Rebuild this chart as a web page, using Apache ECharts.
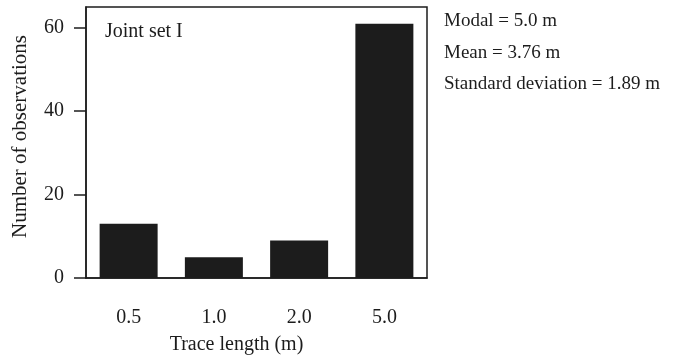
<!DOCTYPE html>
<html>
<head>
<meta charset="utf-8">
<script src="https://cdn.jsdelivr.net/npm/echarts@6/dist/echarts.min.js"></script>
<style>
  html, body { margin: 0; padding: 0; background: #fff; }
  #chart { width: 675px; height: 360px; }
</style>
</head>
<body>
<div id="chart"></div>
<script>
// trace length classes and counts
const categories = ['0.5', '1.0', '2.0', '5.0']
const counts = [13, 5, 9, 61]
const yTicks = [0, 20, 40, 60]
const statLines = ['Modal = 5.0 m', 'Mean = 3.76 m', 'Standard deviation = 1.89 m']

const ink = '#1c1c1c'
const font = '"Liberation Serif", "DejaVu Serif", serif'

const chart = echarts.init(document.getElementById('chart'))

chart.setOption({
  backgroundColor: '#fff',
  animation: false,
  textStyle: { fontFamily: font, color: ink },
  title: {
    text: 'Joint set I',
    left: 100,
    top: 17,
    textStyle: { fontFamily: font, fontSize: 20, fontWeight: 'normal', color: ink }
  },
  grid: {
    left: 86,
    right: 248,
    top: 7,
    bottom: 81,
    show: true,
    borderColor: ink,
    borderWidth: 1.5
  },
  xAxis: {
    type: 'category',
    data: categories,
    boundaryGap: true,
    axisLine: { lineStyle: { color: ink, width: 1.5 } },
    axisTick: { alignWithLabel: true, length: 11, lineStyle: { color: ink, width: 1.5 } },
    axisLabel: { margin: 30, fontSize: 20, color: ink, fontFamily: font },
    name: 'Trace length (m)',
    nameLocation: 'middle',
    nameGap: 57,
    nameTextStyle: { fontSize: 20, color: ink, fontFamily: font, padding: [0, 40, 0, 0] }
  },
  yAxis: {
    type: 'value',
    min: 0,
    max: 65,
    splitLine: { show: false },
    axisLine: { show: true, lineStyle: { color: ink, width: 1.5 } },
    axisTick: { show: true, length: 12, customValues: yTicks, lineStyle: { color: ink, width: 1.5 } },
    axisLabel: { margin: 22, fontSize: 20, color: ink, fontFamily: font, customValues: yTicks },
    name: 'Number of observations',
    nameLocation: 'middle',
    nameGap: 55,
    nameTextStyle: { fontSize: 21, color: ink, fontFamily: font, padding: [0, 0, 0, 12] }
  },
  graphic: statLines.map((t, i) => ({
    type: 'text',
    left: 444,
    top: 12 + i * 31.5,
    style: { text: t, font: '19px ' + font, fill: ink }
  })),
  series: [{
    type: 'bar',
    data: counts,
    barWidth: 58,
    itemStyle: { color: ink }
  }]
})
</script>
</body>
</html>
